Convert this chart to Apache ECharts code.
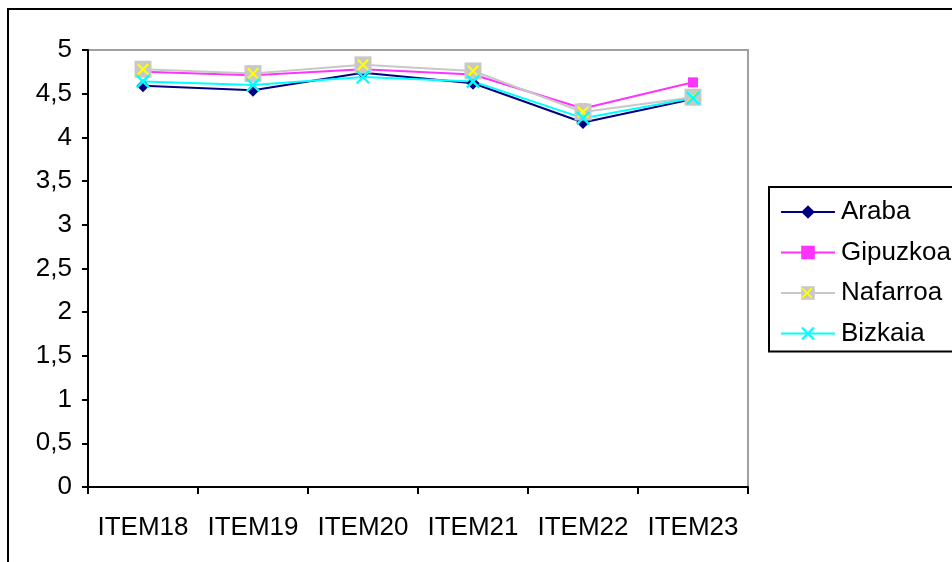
<!DOCTYPE html>
<html>
<head>
<meta charset="utf-8">
<script src="https://cdn.jsdelivr.net/npm/echarts@6/dist/echarts.min.js"></script>
<style>
html,body{margin:0;padding:0;background:#fff;}
#c{width:952px;height:562px;}
</style>
</head>
<body>
<div id="c"></div>
<script>
const categories = ['ITEM18','ITEM19','ITEM20','ITEM21','ITEM22','ITEM23'];
const araba    = [4.59, 4.54, 4.74, 4.62, 4.17, 4.44];
const gipuzkoa = [4.75, 4.71, 4.78, 4.72, 4.33, 4.63];
const nafarroa = [4.78, 4.73, 4.83, 4.76, 4.29, 4.46];
const bizkaia  = [4.64, 4.60, 4.69, 4.64, 4.22, 4.45];
const yTickLabels = ['0','0,5','1','1,5','2','2,5','3','3,5','4','4,5','5'];

const xPath = 'path://M0,1.2L1.2,0L5,3.8L8.8,0L10,1.2L6.2,5L10,8.8L8.8,10L5,6.2L1.2,10L0,8.8L3.8,5Z';
const FONT = 'Liberation Sans, Arial, sans-serif';

// yellow cross for the Nafarroa legend entry
function crossPoints(cx, cy, s) {
  const u = [[0,1.2],[1.2,0],[5,3.8],[8.8,0],[10,1.2],[6.2,5],[10,8.8],[8.8,10],[5,6.2],[1.2,10],[0,8.8],[3.8,5]];
  return u.map(p => [cx + (p[0] - 5) * s / 10, cy + (p[1] - 5) * s / 10]);
}

const chart = echarts.init(document.getElementById('c'), null, {renderer:'canvas'});
chart.setOption({
  animation: false,
  backgroundColor: '#fff',
  grid: {left: 88, top: 50, width: 660, height: 437, show: true, borderColor: '#a0a0a0', borderWidth: 2, backgroundColor: 'transparent'},
  xAxis: {
    type: 'category', data: categories, boundaryGap: true,
    axisLine: {lineStyle: {color: '#000', width: 2}},
    axisTick: {show: true, length: 7, lineStyle: {color: '#000', width: 2}},
    axisLabel: {margin: 28, color: '#000', fontFamily: FONT, fontSize: 26, interval: 0},
    splitLine: {show: false}
  },
  yAxis: {
    type: 'value', min: 0, max: 5, interval: 0.5,
    axisLine: {show: true, lineStyle: {color: '#000', width: 2}},
    axisTick: {show: true, length: 6, lineStyle: {color: '#000', width: 2}},
    axisLabel: {margin: 16, color: '#000', fontFamily: FONT, fontSize: 26,
      formatter: (v) => yTickLabels[Math.round(v / 0.5)]},
    splitLine: {show: false}
  },
  legend: {
    data: ['Araba','Gipuzkoa','Nafarroa','Bizkaia'],
    orient: 'vertical', left: 769, top: 187,
    padding: [12, 30, 5, 11],
    itemWidth: 54, itemHeight: 17, itemGap: 14.5,
    borderColor: '#000', borderWidth: 2, backgroundColor: '#fff',
    textStyle: {color: '#000', fontFamily: FONT, fontSize: 26, padding: [0,0,0,1]},
    selectedMode: false
  },
  series: [
    {name: 'Araba', type: 'line', data: araba, symbol: 'diamond', symbolSize: 13,
     lineStyle: {color: '#000080', width: 2}, itemStyle: {color: '#000080'}},
    {name: 'Gipuzkoa', type: 'line', data: gipuzkoa, symbol: 'rect', symbolSize: 10,
     lineStyle: {color: '#FF33FF', width: 2}, itemStyle: {color: '#FF33FF'}},
    {name: 'Nafarroa', type: 'line', data: nafarroa, symbol: 'rect', symbolSize: 17,
     lineStyle: {color: '#C8C8C8', width: 2}, itemStyle: {color: '#C8C8C8'}},
    {name: 'NafarroaX', type: 'line', data: nafarroa, symbol: xPath, symbolSize: 12,
     lineStyle: {width: 0, opacity: 0}, itemStyle: {color: '#FFFF00'}, silent: true},
    {name: 'Bizkaia', type: 'line', data: bizkaia, symbol: xPath, symbolSize: 14,
     lineStyle: {color: '#00FFFF', width: 2}, itemStyle: {color: '#00FFFF'}}
  ],
  graphic: [
    {type: 'rect', shape: {x: 8, y: 9, width: 1000, height: 600}, z: 100,
     style: {fill: 'none', stroke: '#000', lineWidth: 2}, silent: true},
    {type: 'polygon', shape: {points: crossPoints(807, 293, 11)},
     style: {fill: '#FFFF00'}, z: 200, silent: true}
  ]
});
</script>
</body>
</html>
